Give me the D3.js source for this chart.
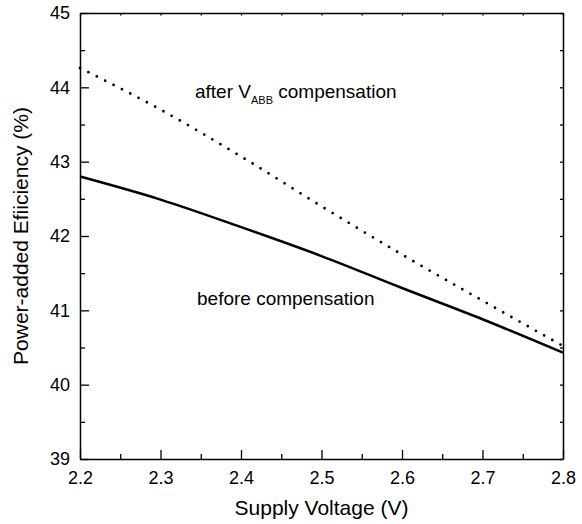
<!DOCTYPE html>
<html>
<head>
<meta charset="utf-8">
<script src="https://cdn.jsdelivr.net/npm/d3@7"></script>
<style>
  body { margin: 0; background: #fff; }
  svg { font-family: "Liberation Sans", Arial, Helvetica, sans-serif; }
</style>
</head>
<body>
<div id="chart"></div>
<script>
// supply voltage (V)
var voltage = [2.2, 2.3, 2.4, 2.5, 2.6, 2.7, 2.8];
// power-added efficiency (%)
var before = [42.80, 42.49, 42.12, 41.73, 41.30, 40.88, 40.43];
var after = [44.26, 43.70, 43.07, 42.40, 41.75, 41.13, 40.52];
var xTicks = [2.2, 2.3, 2.4, 2.5, 2.6, 2.7, 2.8];
var yTicks = [39, 40, 41, 42, 43, 44, 45];

var w = 582, h = 524;
var margin = {top: 13, right: 19, bottom: 65, left: 80};
var width = w - margin.left - margin.right;
var height = h - margin.top - margin.bottom;

var svg = d3.select("#chart").append("svg")
  .attr("width", w)
  .attr("height", h)
  .append("g")
  .attr("transform", "translate(" + margin.left + "," + margin.top + ")");

var x = d3.scaleLinear().domain([2.2, 2.8]).range([0, width]);
var y = d3.scaleLinear().domain([39, 45]).range([height, 0]);

var minorX = d3.range(2.25, 2.8, 0.1);
var minorY = d3.range(39.5, 45, 1);

// bottom axis, inward ticks
svg.append("g")
  .attr("transform", "translate(0," + height + ")")
  .call(d3.axisBottom(x).tickValues(xTicks).tickSizeInner(-9).tickSizeOuter(0).tickFormat(d3.format(".1f")))
  .call(g => g.selectAll("text").style("font-size", "18px").attr("dy", "0.71em").attr("y", 12));
svg.append("g")
  .attr("transform", "translate(0," + height + ")")
  .call(d3.axisBottom(x).tickValues(minorX).tickSizeInner(-5).tickSizeOuter(0).tickFormat(""))
  .call(g => g.select(".domain").remove());

// left axis
svg.append("g")
  .call(d3.axisLeft(y).tickValues(yTicks).tickSizeInner(-9).tickSizeOuter(0).tickFormat(d3.format("d")))
  .call(g => g.selectAll("text").style("font-size", "18px").attr("x", -10));
svg.append("g")
  .call(d3.axisLeft(y).tickValues(minorY).tickSizeInner(-5).tickSizeOuter(0).tickFormat(""))
  .call(g => g.select(".domain").remove());

// top and right axes with small ticks
svg.append("g")
  .call(d3.axisTop(x).tickValues(xTicks.concat(minorX)).tickSizeInner(-2.5).tickSizeOuter(0).tickFormat(""));
svg.append("g")
  .attr("transform", "translate(" + width + ",0)")
  .call(d3.axisRight(y).tickValues(yTicks.concat(minorY)).tickSizeInner(-3).tickSizeOuter(0).tickFormat(""));

svg.selectAll(".domain").attr("stroke", "#000").attr("stroke-width", 1.5);
svg.selectAll(".tick line").attr("stroke", "#000").attr("stroke-width", 1.3);

var line = d3.line()
  .x((d, i) => x(voltage[i]))
  .y(d => y(d))
  .curve(d3.curveMonotoneX);

svg.append("path")
  .datum(before)
  .attr("d", line)
  .attr("fill", "none")
  .attr("stroke", "#000")
  .attr("stroke-width", 2.5);

svg.append("path")
  .datum(after)
  .attr("d", line)
  .attr("fill", "none")
  .attr("stroke", "#000")
  .attr("stroke-width", 2.8)
  .attr("stroke-linecap", "round")
  .attr("stroke-dasharray", "0,9.4");

// annotations
var a = svg.append("text")
  .attr("x", 115)
  .attr("y", 85)
  .style("font-size", "19px");
a.append("tspan").text("after V");
a.append("tspan").text("ABB").style("font-size", "11px").attr("dy", 6);
a.append("tspan").text(" compensation").attr("dy", -6);

svg.append("text")
  .attr("x", 117)
  .attr("y", 292)
  .style("font-size", "19px")
  .text("before compensation");

// axis titles
svg.append("text")
  .attr("x", width / 2)
  .attr("y", height + 56)
  .attr("text-anchor", "middle")
  .style("font-size", "21px")
  .text("Supply Voltage (V)");

svg.append("text")
  .attr("transform", "translate(-52," + (height / 2) + ") rotate(-90)")
  .attr("text-anchor", "middle")
  .style("font-size", "21px")
  .text("Power-added Efiiciency (%)");
</script>
</body>
</html>
